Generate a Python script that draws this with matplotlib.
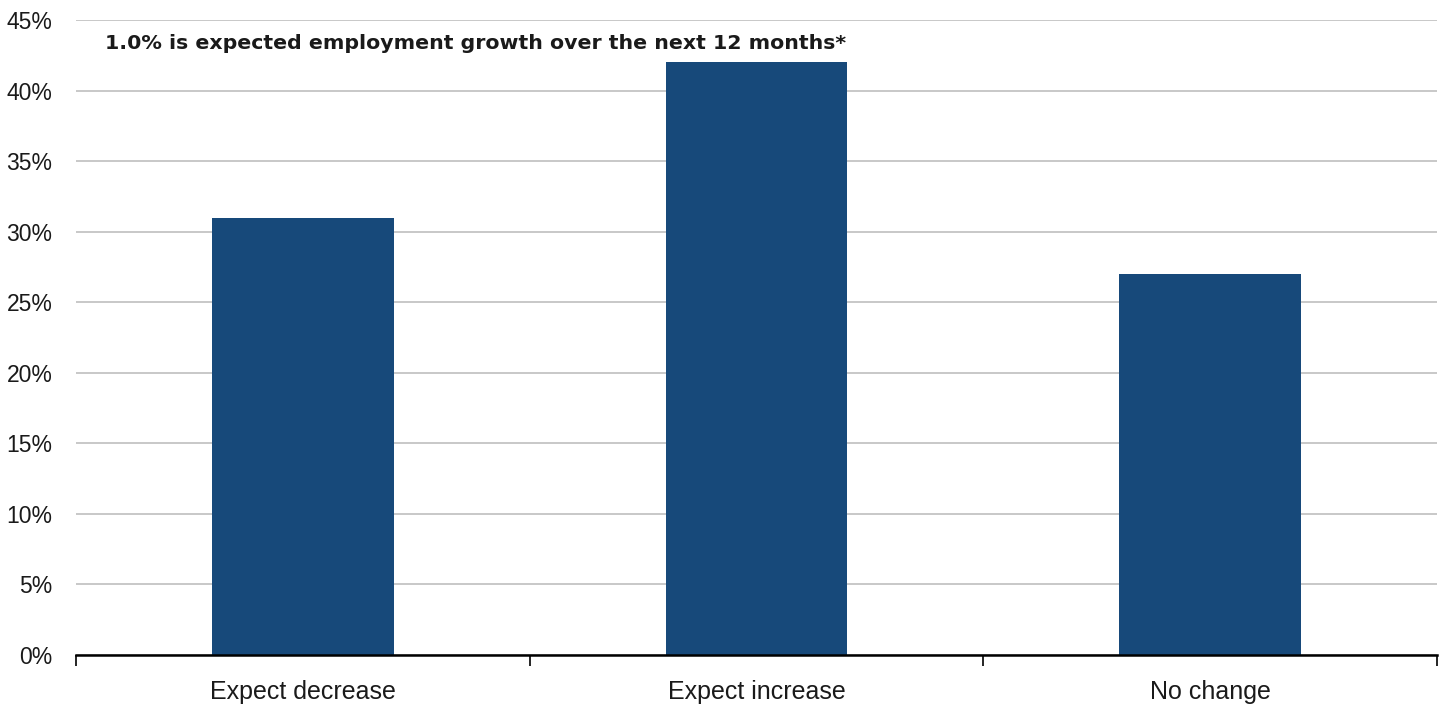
import matplotlib
matplotlib.use("Agg")
import matplotlib.pyplot as plt
import matplotlib.transforms as mtransforms
from matplotlib.ticker import FixedLocator, FuncFormatter

categories = ["Expect decrease", "Expect increase", "No change"]
shares = [31, 42, 27]
note = "1.0% is expected employment growth over the next 12 months*"

bar_color = "#17497A"
grid_color = "#BFBFBF"

fig = plt.figure(figsize=(14.48, 7.06), dpi=100)
ax = fig.add_axes([0.0525, 0.0722, 0.9399, 0.8995])

x = list(range(len(categories)))
ax.bar(x, shares, width=0.4, color=bar_color, zorder=3)

ax.set_xlim(-0.5, len(categories) - 0.5)
ax.set_ylim(0, 45)
ax.set_yticks(range(0, 46, 5))
ax.yaxis.set_major_formatter(FuncFormatter(lambda v, p: f"{v:.0f}%"))
ax.grid(axis="y", color=grid_color, linewidth=1.2, zorder=0)

# category labels at centres, tick marks at the boundaries
ax.set_xticks(x)
ax.set_xticklabels(categories)
ax.tick_params(axis="x", which="major", length=0, pad=18)
ax.xaxis.set_minor_locator(FixedLocator([i - 0.5 for i in range(len(categories) + 1)]))
ax.tick_params(axis="x", which="minor", length=8, width=1.2, color="black")
ax.tick_params(axis="y", length=0, pad=17)

for lbl in ax.get_xticklabels():
    lbl.set_fontfamily("Liberation Sans")
    lbl.set_fontsize(18)
    lbl.set_color("#1a1a1a")
for lbl in ax.get_yticklabels():
    lbl.set_fontfamily("Liberation Sans")
    lbl.set_fontsize(16.5)
    lbl.set_color("#1a1a1a")

for s in ["top", "right", "left"]:
    ax.spines[s].set_visible(False)
ax.spines["bottom"].set_linewidth(1.8)
ax.spines["bottom"].set_zorder(4)

trans = mtransforms.blended_transform_factory(ax.transAxes, ax.transData)
ax.text(0.021, 43.3, note, transform=trans,
        fontsize=14.75, fontweight="bold", family="DejaVu Sans", va="center", ha="left",
        color="#1a1a1a")

fig.savefig("out.png", dpi=100)
